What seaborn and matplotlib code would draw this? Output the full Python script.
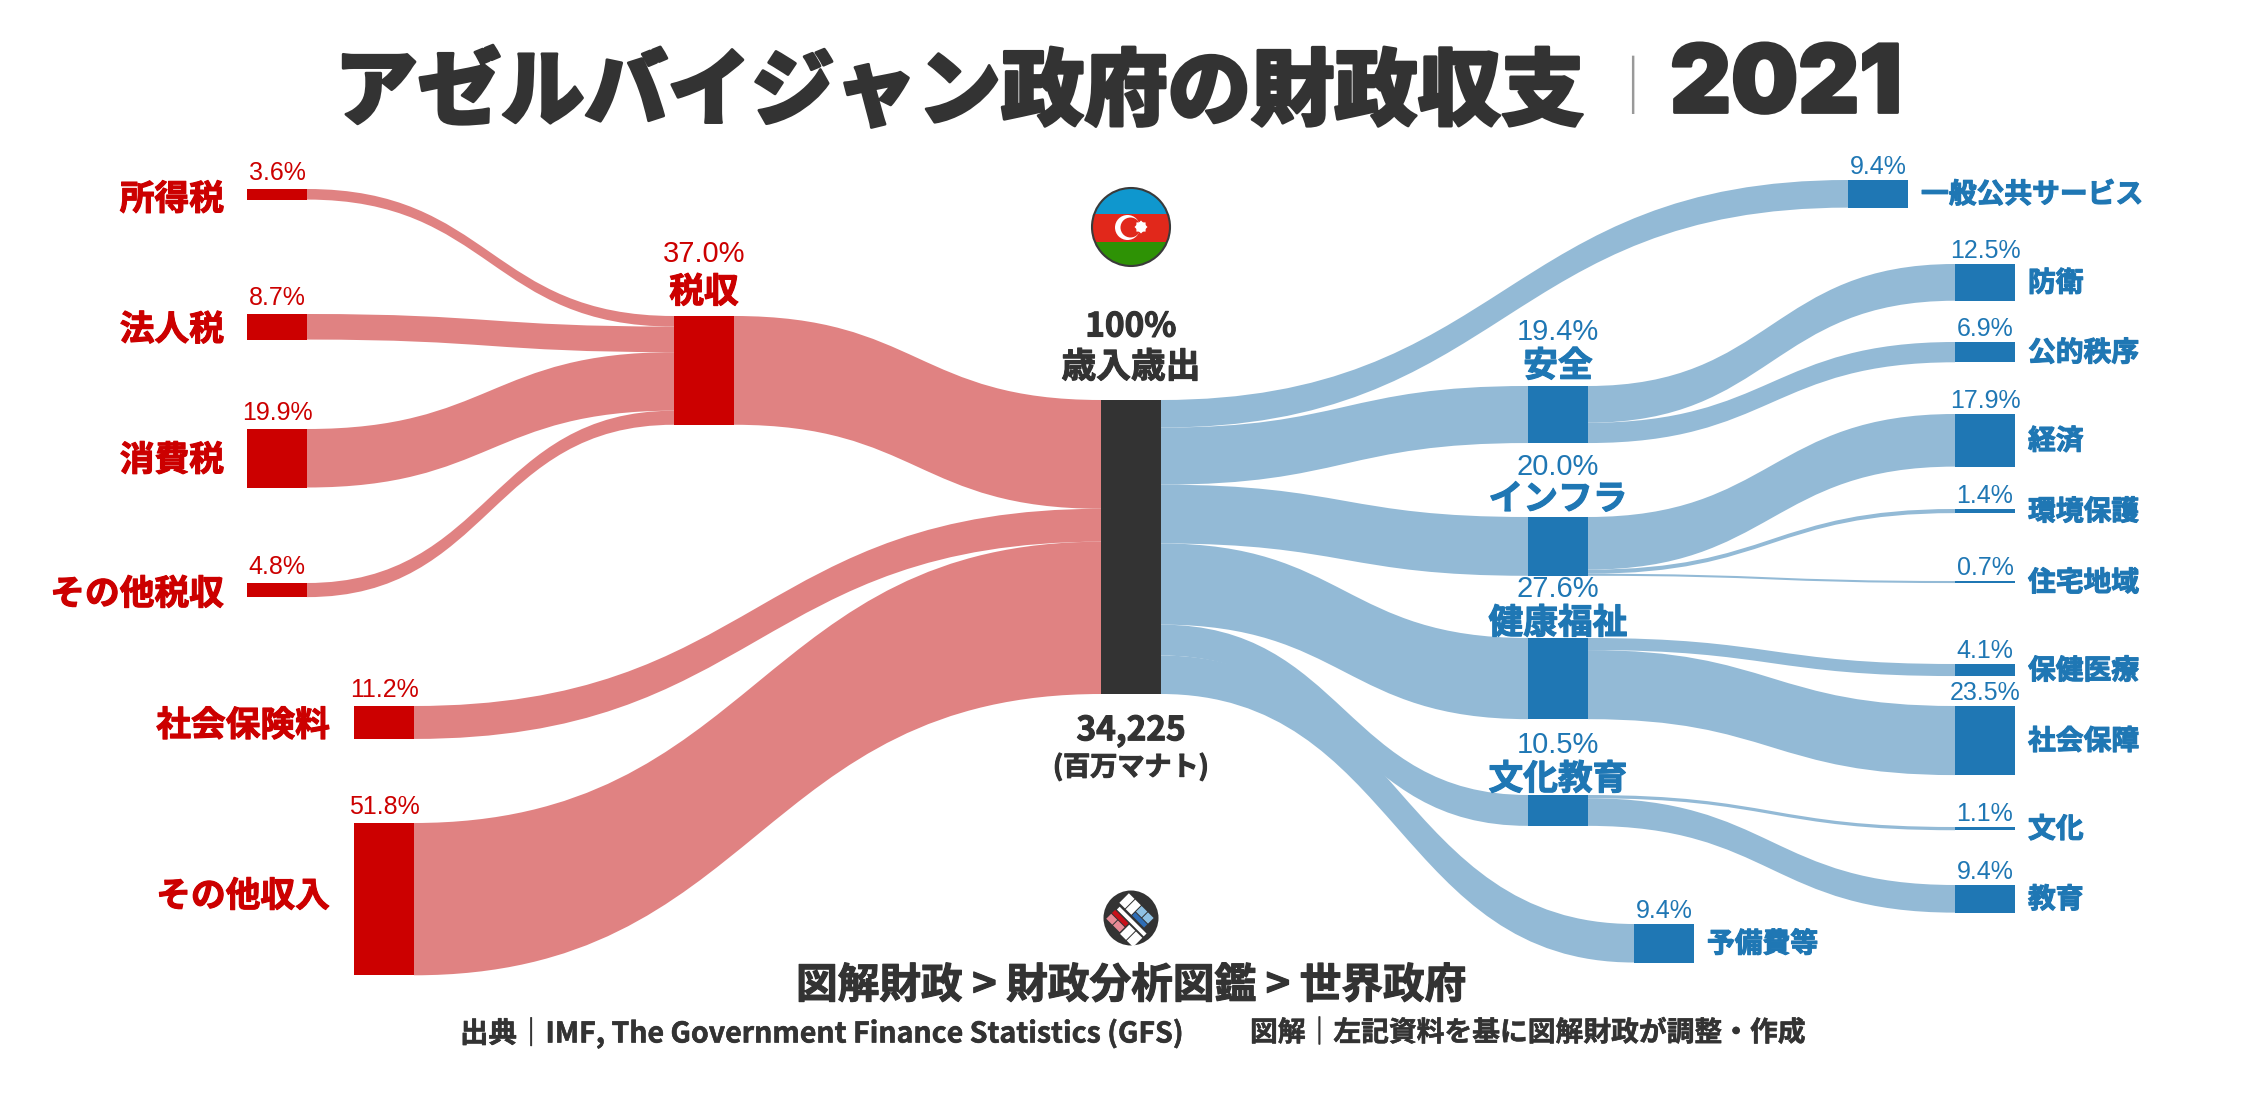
import matplotlib
matplotlib.use('Agg')
import math
import matplotlib.pyplot as plt
import matplotlib.patches as patches
import matplotlib.patheffects as pe
from matplotlib.path import Path
import seaborn as sns

# values are % of total revenue / spending
tax_names = ['所得税', '法人税', '消費税', 'その他税収']
tax_values = [3.6, 8.7, 19.9, 4.8]
revenue_names = ['税収', '社会保険料', 'その他収入']
revenue_values = [37.0, 11.2, 51.8]
total_value = 100
total_amount = '34,225'

spend_names = ['一般公共サービス', '安全', 'インフラ', '健康福祉', '文化教育', '予備費等']
spend_values = [9.4, 19.4, 20.0, 27.6, 10.5, 13.1]
# the picture prints 9.4% for 予備費等 although its band is 13.1 wide
spend_labels = [9.4, 19.4, 20.0, 27.6, 10.5, 9.4]

safety_names = ['防衛', '公的秩序']
safety_values = [12.5, 6.9]
infra_names = ['経済', '環境保護', '住宅地域']
infra_values = [17.9, 1.4, 0.7]
welfare_names = ['保健医療', '社会保障']
welfare_values = [4.1, 23.5]
culture_names = ['文化', '教育']
culture_values = [1.1, 9.4]

W, H = 2247, 1096
TOP_PX = 400      # pixel row of the 0 line (top of the centre bar)
SCALE = 2.94      # pixels per 1 %
BAR_W = 60

RED = '#CC0000'
RED_LIGHT = '#E08282'
BLUE = '#1F77B4'
BLUE_LIGHT = '#93BAD6'
DARK = '#333333'

sns.set_theme(style='white')
plt.rcParams['font.family'] = ['Noto Sans CJK JP', 'DejaVu Sans']
plt.rcParams['axes.unicode_minus'] = False

fig = plt.figure(figsize=(W / 100, H / 100), dpi=100, facecolor='white')
ax = fig.add_axes([0, 0, 1, 1])
deco = fig.add_axes([0, 0, 1, 1])   # pixel space overlay for flag, logo, headings
deco.patch.set_alpha(0)


def to_y(px):
    return (px - TOP_PX) / SCALE


def node(name, value, x, top_px):
    # top/bottom in % units
    top = to_y(top_px)
    return {'name': name, 'value': value, 'x': x, 'top': top, 'bottom': top + value, 'used_l': top, 'used_r': top}


def draw_bar(n, color):
    sns.barplot(x=[n['x']], y=[n['value']], bottom=n['top'], native_scale=True, width=BAR_W,
                color=color, saturation=1, errorbar=None, ax=ax, zorder=3, linewidth=0)


def flow(src, dst, value, color):
    # sigmoid ribbon from right side of src to left side of dst
    x0 = src['x'] + BAR_W / 2
    x1 = dst['x'] - BAR_W / 2
    xm = (x0 + x1) / 2
    y0 = src['used_r']
    y1 = dst['used_l']
    src['used_r'] += value
    dst['used_l'] += value
    verts = [(x0, y0), (xm, y0), (xm, y1), (x1, y1),
             (x1, y1 + value), (xm, y1 + value), (xm, y0 + value), (x0, y0 + value), (x0, y0)]
    codes = [Path.MOVETO, Path.CURVE4, Path.CURVE4, Path.CURVE4,
             Path.LINETO, Path.CURVE4, Path.CURVE4, Path.CURVE4, Path.CLOSEPOLY]
    ax.add_patch(patches.PathPatch(Path(verts, codes), facecolor=color, edgecolor='none', zorder=1))


# layout: column centre x and top pixel of every node
tax_tops = [189, 314, 429, 583]
revenue_tops = [316, 706, 823]
spend_tops = [180, 386, 517, 638, 795, 924]
safety_tops = [264, 342]
infra_tops = [414, 509, 581]
welfare_tops = [664, 706]
culture_tops = [827, 885]

X_TAX = 277
X_TAX_SUM = 704
X_REV = 384
X_MID = 1131
X_SPEND = 1558
X_GENERAL = 1878
X_RESERVE = 1664
X_LEAF = 1985

tax_nodes = [node(n, v, X_TAX, t) for n, v, t in zip(tax_names, tax_values, tax_tops)]
rev_nodes = [node(n, v, x, t) for n, v, x, t in zip(revenue_names, revenue_values, [X_TAX_SUM, X_REV, X_REV], revenue_tops)]
mid = node('total', total_value, X_MID, TOP_PX)
spend_x = [X_GENERAL, X_SPEND, X_SPEND, X_SPEND, X_SPEND, X_RESERVE]
spend_nodes = [node(n, v, x, t) for n, v, x, t in zip(spend_names, spend_values, spend_x, spend_tops)]


def leaves(names, values, tops):
    return [node(n, v, X_LEAF, t) for n, v, t in zip(names, values, tops)]


safety_nodes = leaves(safety_names, safety_values, safety_tops)
infra_nodes = leaves(infra_names, infra_values, infra_tops)
welfare_nodes = leaves(welfare_names, welfare_values, welfare_tops)
culture_nodes = leaves(culture_names, culture_values, culture_tops)
leaf_groups = [(spend_nodes[1], safety_nodes), (spend_nodes[2], infra_nodes),
               (spend_nodes[3], welfare_nodes), (spend_nodes[4], culture_nodes)]

for n in tax_nodes:
    flow(n, rev_nodes[0], n['value'], RED_LIGHT)
for n in rev_nodes:
    flow(n, mid, n['value'], RED_LIGHT)
for n in spend_nodes:
    flow(mid, n, n['value'], BLUE_LIGHT)
for parent, kids in leaf_groups:
    for n in kids:
        flow(parent, n, n['value'], BLUE_LIGHT)

for n in tax_nodes + rev_nodes:
    draw_bar(n, RED)
draw_bar(mid, DARK)
for n in spend_nodes:
    draw_bar(n, BLUE)
for _, kids in leaf_groups:
    for n in kids:
        draw_bar(n, BLUE)

ax.set_xlim(0, W)
ax.set_ylim(to_y(H), to_y(0))
ax.axis('off')
deco.set_xlim(0, W)
deco.set_ylim(H, 0)
deco.axis('off')


def px_top(n):
    return TOP_PX + n['top'] * SCALE


def px_mid(n):
    return TOP_PX + (n['top'] + n['value'] / 2) * SCALE


def pct(n, value, color, size=18, gap=7):
    deco.text(n['x'], px_top(n) - gap, f'{value:.1f}%', ha='center', va='baseline', color=color,
              fontsize=size, family='Liberation Sans')


def heavy(x, y, s, color, size, stroke=0.8, **kw):
    # reference lettering is a touch fatter than Noto bold
    t = deco.text(x, y, s, color=color, fontsize=size, fontweight='bold', va='center', **kw)
    t.set_path_effects([pe.withStroke(linewidth=stroke, foreground=color)])
    return t


# left side labels
for n, dy in zip(tax_nodes, [5, 3, 2, 4]):
    pct(n, n['value'], RED, gap=9)
    heavy(n['x'] - BAR_W / 2 - 23, px_mid(n) + dy, n['name'], RED, 25, ha='right')
for n, dy in zip(rev_nodes[1:], [3, -3]):
    pct(n, n['value'], RED, gap=9)
    heavy(n['x'] - BAR_W / 2 - 24, px_mid(n) + dy, n['name'], RED, 25, ha='right')
pct(rev_nodes[0], rev_nodes[0]['value'], RED, size=21, gap=54)
heavy(rev_nodes[0]['x'], px_top(rev_nodes[0]) - 24, rev_nodes[0]['name'], RED, 25, ha='center')

# right side labels
for n, lab, pct_gap, name_gap in zip(spend_nodes[1:5], spend_labels[1:5], [46, 42, 41, 42], [20, 18, 15, 16]):
    pct(n, lab, BLUE, size=21, gap=pct_gap)
    heavy(n['x'], px_top(n) - name_gap, n['name'], BLUE, 25, ha='center')
flat = [(spend_nodes[0], spend_labels[0]), (spend_nodes[5], spend_labels[5])]
for _, kids in leaf_groups:
    flat += [(n, n['value']) for n in kids]
for n, lab in flat:
    pct(n, lab, BLUE, gap=6)
    heavy(n['x'] + BAR_W / 2 + 13, px_mid(n) + 1, n['name'], BLUE, 20, ha='left')

# centre
heavy(1131, 327, f'{total_value}%', DARK, 24, ha='center')
heavy(1131, 367, '歳入歳出', DARK, 25, ha='center')
heavy(1131, 731, total_amount, DARK, 24, ha='center')
heavy(1131, 767, '(百万マナト)', DARK, 19.5, ha='center')

# title
t1 = deco.text(1585, 93, 'アゼルバイジャン政府の財政収支', ha='right', va='center', color=DARK, fontsize=60, fontweight='black')
t1.set_path_effects([pe.withStroke(linewidth=2, foreground=DARK)])
deco.text(1632, 90, '｜', ha='center', va='center', color='#999999', fontsize=42)
t2 = deco.text(1670, 88, '2021', ha='left', va='center', color=DARK, fontsize=68, fontweight='black', family='Inter')
t2.set_path_effects([pe.withStroke(linewidth=2, foreground=DARK)])

# footer
heavy(1131, 986, '図解財政 > 財政分析図鑑 > 世界政府', DARK, 30, ha='center')
heavy(460, 1033, '出典｜IMF, The Government Finance Statistics (GFS)', DARK, 20.5, stroke=0.4, ha='left')
heavy(1250, 1033, '図解｜左記資料を基に図解財政が調整・作成', DARK, 20, stroke=0.4, ha='left')

# flag
fx, fy, fr = 1131, 227, 39
clip = patches.Circle((fx, fy), fr, transform=deco.transData)
for y0, h, c in [(fy - fr, 26, '#0F97CE'), (214, 28, '#E1281B'), (242, fr + 5, '#2E9205')]:
    r = patches.Rectangle((fx - fr, y0), 2 * fr, h, facecolor=c, edgecolor='none')
    deco.add_patch(r)
    r.set_clip_path(clip)
deco.add_patch(patches.Circle((fx, fy), fr, facecolor='none', edgecolor='#3a3a3a', linewidth=1.5))
deco.add_patch(patches.Circle((1127.5, 227.5), 12.5, facecolor='white', edgecolor='none'))
deco.add_patch(patches.Circle((1130.5, 227.5), 10, facecolor='#E1281B', edgecolor='none'))
for angle in (0, 0.785):
    deco.add_patch(patches.RegularPolygon((1141, 227), 4, radius=6.5, orientation=angle, facecolor='white', edgecolor='none'))

# logo, blocks laid out along the two diagonals
lx, ly = 1131, 918
deco.add_patch(patches.Circle((lx, ly), 27.5, facecolor=DARK, edgecolor='none'))


def block(u0, u1, v0, v1, color):
    s = math.sqrt(0.5)
    pts = [(lx + (u + v) * s, ly + (u - v) * s) for u, v in [(u0, v0), (u1, v0), (u1, v1), (u0, v1)]]
    deco.add_patch(patches.Polygon(pts, facecolor=color, edgecolor='none'))


block(-16, 22, -4, 0, 'white')
block(-17, 2, -10, -5.5, '#C8101A')
block(-17, -8.5, -18, -11, '#E88A96')
block(-7.5, 2, -18, -11, '#E88A96')
block(3.5, 12, -19, -6, 'white')
block(13, 22, -19, -6, 'white')
block(-1, 16, 2.5, 7, '#2E6DB5')
block(-1, 7, 8, 16, '#8FC1E3')
block(8, 16, 8, 16, '#8FC1E3')
block(-19, -11, 2.5, 16, 'white')
block(-10, -2, 2.5, 16, 'white')

fig.savefig('out.png', dpi=100)
